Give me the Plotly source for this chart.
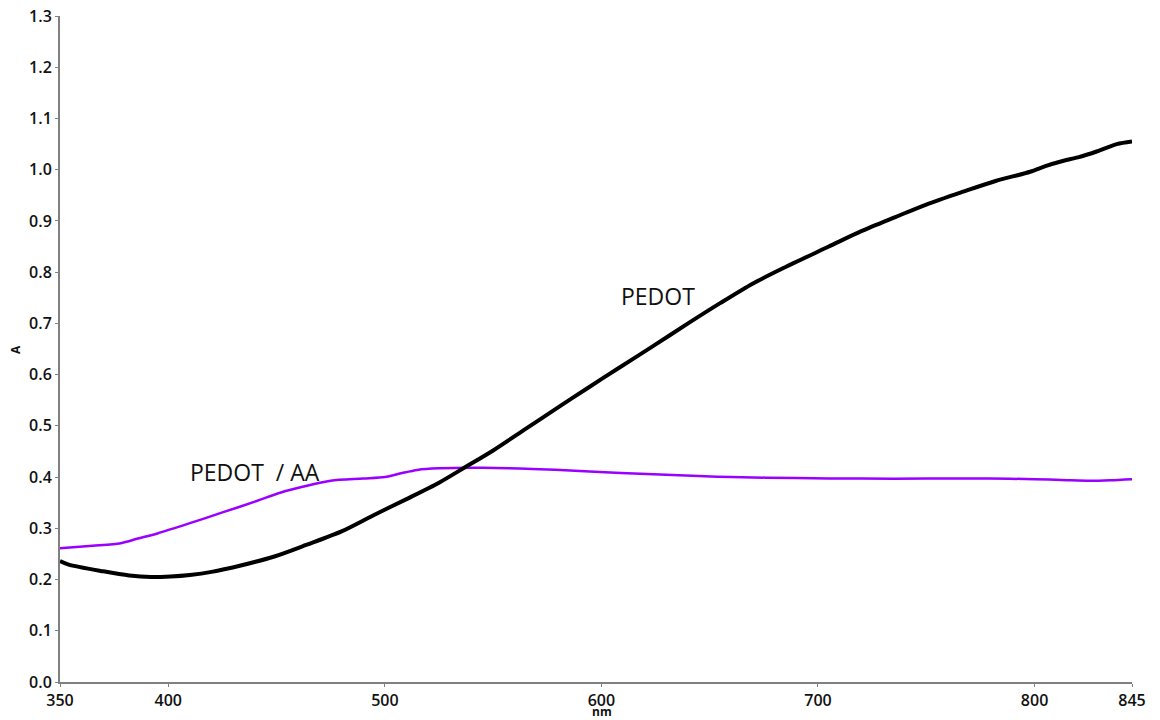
import plotly.graph_objects as go

# Absorbance spectra (wavelength in nm, absorbance A)
pedot_nm = [350, 354, 370, 382, 392, 401, 410, 420, 433, 449, 464, 480, 495, 510,
            525, 537, 550, 565, 580, 593, 608, 624, 640, 655, 670, 684, 705,
            720, 736, 750, 767, 782, 798, 805, 813, 820, 829, 838, 845]
pedot_a = [0.236, 0.229, 0.216, 0.208, 0.205, 0.206, 0.209, 0.215, 0.227, 0.245,
           0.268, 0.294, 0.326, 0.357, 0.389, 0.419, 0.452, 0.494, 0.536, 0.572,
           0.613, 0.656, 0.700, 0.740, 0.778, 0.808, 0.850, 0.880, 0.908,
           0.932, 0.957, 0.978, 0.996, 1.007, 1.017, 1.024, 1.036, 1.050, 1.055]

pedot_aa_nm = [350, 365, 378, 386, 395, 410, 425, 440, 452, 462, 475, 490, 500,
               508, 515, 525, 545, 568, 590, 609, 627, 645, 660, 690, 720, 750,
               779, 800, 815, 826, 835, 845]
pedot_aa_a = [0.261, 0.266, 0.271, 0.280, 0.290, 0.310, 0.331, 0.352, 0.370, 0.381,
              0.393, 0.397, 0.400, 0.408, 0.414, 0.417, 0.418, 0.416, 0.412, 0.408,
              0.405, 0.402, 0.400, 0.398, 0.397, 0.397, 0.397, 0.396, 0.394, 0.393,
              0.394, 0.396]

x_ticks = [350, 400, 500, 600, 700, 800, 845]
y_ticks = [round(0.1 * i, 1) for i in range(14)]

fig = go.Figure()
fig.add_trace(go.Scatter(x=pedot_aa_nm, y=pedot_aa_a, mode="lines",
                         line=dict(color="#9900ff", width=2.5, shape="spline",
                                   smoothing=0.8),
                         name="PEDOT / AA", showlegend=False))
fig.add_trace(go.Scatter(x=pedot_nm, y=pedot_a, mode="lines",
                         line=dict(color="#000000", width=4, shape="spline",
                                   smoothing=0.8),
                         name="PEDOT", showlegend=False))

axis_style = dict(showgrid=False, zeroline=False, showline=True, linecolor="#808080",
                  linewidth=2, ticks="outside", ticklen=3, tickwidth=1,
                  tickcolor="#808080", automargin=False)

fig.update_xaxes(range=[350, 845], tickvals=x_ticks,
                 ticktext=[str(v) for v in x_ticks],
                 tickfont=dict(family="Open Sans", size=16, color="#111111",
                               weight=600),
                 **axis_style)
fig.update_yaxes(range=[0, 1.3], tickvals=y_ticks,
                 ticktext=[f"{v:.1f}" for v in y_ticks],
                 tickfont=dict(family="Open Sans", size=16, color="#111111",
                               weight=600),
                 **axis_style)

label_font = dict(family="Open Sans", size=23, color="#111111")
fig.add_annotation(x=409, y=0.409, xref="x", yref="y", text="PEDOT  / AA",
                   showarrow=False, xanchor="left", yanchor="middle", font=label_font)
fig.add_annotation(x=608, y=0.753, xref="x", yref="y", text="PEDOT",
                   showarrow=False, xanchor="left", yanchor="middle", font=label_font)

title_font = dict(family="Open Sans", size=12, color="#111111", weight=700)
fig.add_annotation(x=-0.042, y=0.5, xref="paper", yref="paper", text="A",
                   textangle=-90, showarrow=False, xanchor="center",
                   yanchor="middle", font=title_font)
fig.add_annotation(x=0.506, y=-0.044, xref="paper", yref="paper", text="nm",
                   showarrow=False, xanchor="center", yanchor="middle",
                   font=title_font)

fig.update_layout(width=1160, height=720, plot_bgcolor="white",
                  paper_bgcolor="white",
                  margin=dict(l=60, r=28, t=16, b=38))

fig.write_html("out.html")
